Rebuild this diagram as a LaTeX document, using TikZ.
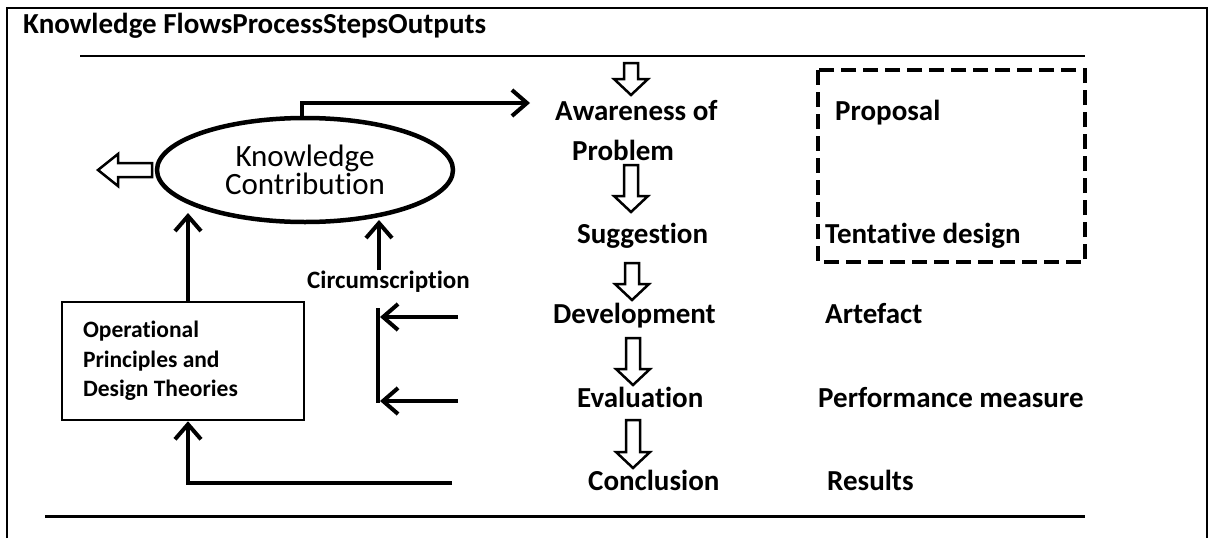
\documentclass[tikz,border=0pt]{standalone}
\usepackage{fontspec}
\setmainfont{Carlito}[RawFeature={-liga}]
\usetikzlibrary{arrows.meta,shapes.geometric}

% hollow block arrow pointing down: x, top y, tip y
\newcommand\HDown[3]{%
  \draw[hollow] (#1-7,#2) -- (#1+7,#2) -- (#1+7,#3-16) -- (#1+17,#3-16)
    -- (#1,#3) -- (#1-17,#3-16) -- (#1-7,#3-16) -- cycle;}

\begin{document}
\begin{tikzpicture}[x=1pt,y=-1pt,
  lbl/.style={font=\fontsize{29}{35}\selectfont\bfseries, anchor=base west, inner sep=0pt},
  arr/.style={line width=4pt, -{Straight Barb[length=15pt,width=26pt]}},
  hollow/.style={line width=2.5pt, fill=white, line join=miter},
  rulel/.style={line width=2pt}]
\useasboundingbox (0,0) rectangle (1214,538);

% outer frame (open at the bottom)
\draw[line width=2.5pt] (7,538) -- (7,8) -- (1207,8) -- (1207,538);
\node[lbl] (title) at (23,33) {Knowledge FlowsProcessStepsOutputs};
\draw[rulel] (80,56) -- (1085,56);
\draw[line width=3pt] (45,516) -- (1085,516);

% process steps
\node[lbl] (aw)   at (555,120) {Awareness of};
\node[lbl] (prob) at (572,160) {Problem};
\node[lbl] (sug)  at (577,243) {Suggestion};
\node[lbl] (dev)  at (553,323) {Development};
\node[lbl] (eval) at (577,407) {Evaluation};
\node[lbl] (conc) at (588,490) {Conclusion};

\HDown{631}{63}{95}
\HDown{631}{165}{212}
\HDown{632}{263}{300}
\HDown{633}{338}{385}
\HDown{633}{420}{468}

% outputs
\node[lbl] (prop) at (835,120) {Proposal};
\node[lbl] (tent) at (825,243) {Tentative design};
\node[lbl] (artf) at (825,323) {Artefact};
\node[lbl] (perf) at (818,407) {Performance measure};
\node[lbl] (res)  at (827,490) {Results};
\draw[line width=4.5pt, dash pattern=on 15pt off 7pt] (818,70) rectangle (1085,262);

% knowledge flows
\node[ellipse, draw, line width=4.5pt, minimum width=296pt, minimum height=104pt,
      inner sep=0pt, align=center, font=\fontsize{31}{24}\selectfont] (kc) at (305,170)
      {Knowledge\\Contribution};
\draw[hollow] (98,170) -- (118,154) -- (118,163) -- (152,163) -- (152,177)
  -- (118,177) -- (118,186) -- cycle;

\node[draw, line width=2.5pt, text width=200pt, inner xsep=21pt, minimum height=118pt,
      align=flush left, font=\fontsize{23.5}{29.5}\selectfont\bfseries] (op) at (183,361)
      {Operational\\Principles and\\Design Theories};

\node[anchor=base west, inner sep=0pt, font=\fontsize{25}{30}\selectfont\bfseries]
      (circ) at (307,288) {Circumscription};

\coordinate (awin) at (530,103);
\coordinate (kcin1) at (188,213);
\coordinate (kcin2) at (379,220);
\coordinate (bartop) at (378,308);
\coordinate (barbot) at (378,403);
\coordinate (devout) at (458,317);
\coordinate (evout) at (458,401);
\coordinate (concout) at (452,483);

\draw[arr] (kc.north -| 302,0) |- (awin);
\draw[arr] (op.north -| kcin1) -- (kcin1);
\draw[arr] (circ.north -| kcin2) -- (kcin2);
\draw[line width=4pt] (bartop) -- (barbot);
\draw[arr] (devout) -- (devout -| 380,0);
\draw[arr] (evout) -- (evout -| 380,0);
\draw[arr, line join=miter] (concout) -| (op.south -| kcin1);
\end{tikzpicture}
\end{document}
